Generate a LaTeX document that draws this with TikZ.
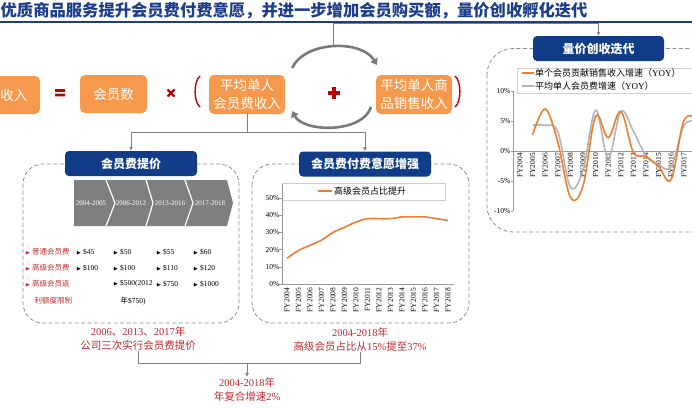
\documentclass[tikz,border=0pt]{standalone}
\usepackage{amssymb}
\usepackage{fontspec}
\setmainfont{Liberation Serif}
\newfontfamily\cjk{Noto Sans CJK SC}
\usepackage{tikz}
\usetikzlibrary{arrows.meta}
\tikzset{>={Latex[width=4pt,length=4pt]}}
\definecolor{boxorange}{HTML}{F6994D}
\definecolor{boxblue}{HTML}{103C88}
\definecolor{titleblue}{HTML}{1C3C8C}
\definecolor{notered}{HTML}{C0282D}
\definecolor{symred}{HTML}{C00000}
\definecolor{linegray}{HTML}{808080}
\definecolor{arcgray}{HTML}{7A7A7A}
\definecolor{dashgray}{HTML}{8C8C8C}
\definecolor{chevgray}{HTML}{7F7F7F}
\definecolor{axisgray}{HTML}{9A9A9A}
\definecolor{framegray}{HTML}{D0D0D0}
\definecolor{lineorange}{HTML}{ED7D31}
\definecolor{linesilver}{HTML}{B4B4B4}
\newcommand{\zh}[1]{{\cjk #1}}
\newcommand{\fsize}[2]{\fontsize{#1}{#2}\selectfont}
\newcommand{\bul}{\raisebox{0.4pt}{\fsize{5}{6}$\blacktriangleright$}\hspace{1.5pt}}

\begin{document}
\begin{tikzpicture}[x=1pt, y=-1pt]
% Define styles
\tikzstyle{obox} = [rounded corners=5pt, fill=boxorange, text=white, align=center, inner sep=0pt, font=\cjk\fsize{13.5}{18}]
\tikzstyle{bbox} = [rounded corners=4pt, fill=boxblue, text=white, inner sep=0pt, minimum width=132pt, minimum height=25pt, font=\cjk\bfseries\fsize{12}{14}]
\tikzstyle{dbox} = [draw=dashgray, dash pattern=on 4pt off 2.5pt, line width=0.8pt, rounded corners=20pt]
\tikzstyle{conn} = [draw=linegray, line width=0.9pt]
\tikzstyle{cyc} = [draw=arcgray, line width=2.6pt, -{Triangle[width=8pt,length=6pt]}]
\tikzstyle{note} = [text=notered, align=center, inner sep=0pt, font=\fsize{10.5}{14}]
\tikzstyle{item} = [anchor=west, inner sep=0pt, font=\fsize{7.5}{8}]
\tikzstyle{tick} = [anchor=east, inner sep=0pt, font=\fsize{7.5}{8}]
\tikzstyle{fy} = [rotate=90, anchor=east, inner sep=0pt, font=\fsize{7.5}{8}]
\useasboundingbox (0,0) rectangle (692,407);
% Title
\node[anchor=west, inner sep=0pt, text=titleblue, font=\cjk\bfseries\fsize{16.3}{18}] (title) at (0.5,11) {优质商品服务提升会员费付费意愿，并进一步增加会员购买额，量价创收孵化迭代};
\draw[titleblue, line width=1.2pt] (0,22) -- (692,22);
% Define nodes
\node[obox, minimum width=52pt, minimum height=38pt] (rev) at (14,95) {收入};
\node[obox, minimum width=67pt, minimum height=38pt] (mem) at (113.5,94) {会员数};
\node[obox, minimum width=76pt, minimum height=39pt] (mfee) at (247,94.5) {平均单人\\会员费收入};
\node[obox, minimum width=76pt, minimum height=39pt] (msale) at (414,94.5) {平均单人商\\品销售收入};
% Signs and brackets
\fill[symred] (55,89) rectangle (65,91.8) (55,93.5) rectangle (65,96.3);
\draw[symred, line width=2.2pt] (167.5,89.5) -- (174.5,96.5) (167.5,96.5) -- (174.5,89.5);
\draw[symred, line width=3.4pt] (328,93) -- (340,93) (334,87) -- (334,99);
\draw[symred, line width=1.4pt] (200,76) .. controls (193.5,81) and (193.5,102) .. (200,107);
\draw[symred, line width=1.4pt] (455,76) .. controls (461.5,81) and (461.5,102) .. (455,107);
% Cycle arrows
\coordinate (tl) at (292,68);
\coordinate (tr) at (377,65);
\coordinate (br) at (371,107);
\coordinate (bl) at (292,111);
\coordinate (arctop) at (333,45);
\draw[cyc] (tl) .. controls (306,40) and (362,40) .. (tr);
\draw[cyc] (br) .. controls (363,133) and (304,133) .. (bl);
% Dashed groups
\draw[dbox] (23,164) rectangle (239,323);
\draw[dbox] (252,164) rectangle (469,323);
\draw[dbox, rounded corners=26pt] (487,48.5) rectangle (740,232);
\node[bbox] (fee) at (131,163.5) {会员费提价};
\node[bbox] (will) at (365,164) {会员费付费意愿增强};
\node[bbox, minimum width=131pt] (loop) at (598.5,48.5) {量价创收迭代};
% Connect the nodes
\draw[conn,->] (arctop) -- (333,23) -| (loop.north);
\coordinate (split) at (247,132);
\draw[conn] (mfee.south) -- (split);
\draw[conn,->] (split) -| (fee.north);
\draw[conn,->] (split) -| (will.north);
% Fee steps
\fill[chevgray] (74,180) -- (227,180) -- (233,203) -- (227,226) -- (74,226) -- cycle;
\draw[white, line width=1.2pt] (106,180) -- (115,203) -- (106,226) (146,180) -- (153,203) -- (146,226) (185,180) -- (193,203) -- (185,226);
\foreach \x/\t [count=\k] in {91/2004-2005, 131/2006-2012, 170/2013-2016, 210/2017-2018}
  \node[text=white, inner sep=0pt, font=\fsize{7}{8}] (step\k) at (\x,203) {\t};
\node[item, text=notered] (kind1) at (25,252) {\bul\zh{普通会员费}};
\node[item, text=notered] (kind2) at (25,268) {\bul\zh{高级会员费}};
\node[item, text=notered] (kind3) at (25,284) {\bul\zh{高级会员返}};
\node[item, text=notered] (kind4) at (34.5,301) {\zh{利额度限制}};
\node[item] at (76,252) {\bul\$45};
\node[item] at (76,268) {\bul\$100};
\node[item] at (113,252) {\bul\$50};
\node[item] at (113,268) {\bul\$100};
\node[item] at (113,284) {\bul\$500(2012};
\node[item] at (120.5,301) {\zh{年}\$750)};
\node[item] at (156,252) {\bul\$55};
\node[item] at (156,268) {\bul\$110};
\node[item] at (156,284) {\bul\$750};
\node[item] at (193,252) {\bul\$60};
\node[item] at (193,268) {\bul\$120};
\node[item] at (193,284) {\bul\$1000};
% Share chart
\draw[framegray, line width=0.6pt] (282,183) rectangle (445,200);
\draw[lineorange, line width=1.6pt] (318,191) -- (332,191);
\node[anchor=west, inner sep=0pt, font=\cjk\fsize{9}{10}] (sharekey) at (334,191) {高级会员占比提升};
\begin{scope}[shift={(287,284)}, x=11.5pt, y=1.72pt]
\draw[axisgray, line width=0.6pt] (-0.45,58) -- (-0.45,0) -- (14.5,0);
\foreach \v in {0,10,...,50} {
  \draw[axisgray, line width=0.6pt] (-0.45,\v) -- ++(-2.5pt,0);
  \node[tick] at (-0.65,\v) {\v\%};
}
\foreach \i in {0,...,14} {
  \pgfmathtruncatemacro\yr{2004+\i}
  \node[fy] at (\i,-2) {FY\yr};
}
\draw[lineorange, line width=1.6pt] plot[smooth, tension=0.6] coordinates {(0,15) (1,19.5) (2,22.5) (3,25.5) (4,30) (5,33) (6,36) (7,38) (8,38) (9,38) (10,39) (11,39) (12,39) (13,38) (14,37)};
\end{scope}
% Growth chart
\draw[framegray, line width=0.6pt] (517,68) rectangle (700,93);
\draw[lineorange, line width=1.6pt] (522,73) -- (534,73);
\draw[linesilver, line width=1.6pt] (522,86) -- (534,86);
\node[anchor=west, inner sep=0pt, font=\fsize{9}{10}] (key1) at (535,73) {\zh{单个会员贡献销售收入增速（}YOY\zh{）}};
\node[anchor=west, inner sep=0pt, font=\fsize{9}{10}] (key2) at (535,86) {\zh{平均单人会员费增速（}YOY\zh{）}};
\begin{scope}[shift={(520,151)}, x=12.6pt, y=6pt]
\draw[axisgray, line width=0.6pt] (-0.55,10) -- (-0.55,-10) (-0.55,0) -- (14,0);
\foreach \v in {10,5,0,-5,-10} {
  \draw[axisgray, line width=0.6pt] (-0.55,\v) -- ++(-2.5pt,0);
  \node[tick] at (-0.75,\v) {\v\%};
}
\foreach \i in {0,...,13} {
  \pgfmathtruncatemacro\yr{2004+\i}
  \node[fy] at (\i,-0.3) {FY\yr};
}
\draw[linesilver, line width=1.6pt] plot[smooth, tension=0.6] coordinates {(1,4.3) (2,4.3) (3,3.2) (4,-6.0) (5,-3.2) (6,6.8) (7,-1.2) (8,6.6) (9,3.3) (10,-0.8) (11,-2.3) (12,-2.6) (13,4.2) (14,5)};
\draw[lineorange, line width=1.6pt] plot[smooth, tension=0.6] coordinates {(1,2.7) (2,7.0) (3,1.5) (4,-7.7) (5,-5.8) (6,5.8) (7,2.2) (8,6.6) (9,-0.2) (10,-0.9) (11,-2.6) (12,-4.7) (13,5.0) (14,5.5)};
\end{scope}
% Notes
\node[note] (note1) at (138,339) {2006\zh{、}2013\zh{、}2017\zh{年}\\\zh{公司三次实行会员费提价}};
\node[note] (note2) at (360,339.5) {2004-2018\zh{年}\\\zh{高级会员占比从}15\%\zh{提至}37\%};
\node[note] (note3) at (247,389) {2004-2018\zh{年}\\\zh{年复合增速}2\%};
\coordinate (join) at (247,363);
\draw[conn] (note1.south) -- (note1.south |- join) -- (note2.south |- join) -- (note2.south);
\draw[conn,->] (join) -- (note3.north);
\end{tikzpicture}
\end{document}
